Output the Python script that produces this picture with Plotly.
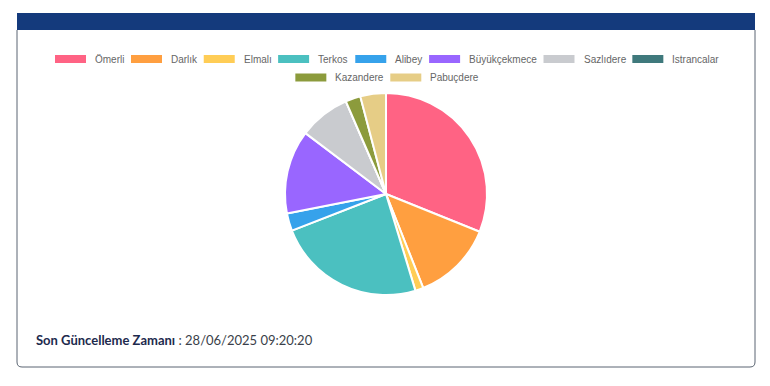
import plotly.graph_objects as go

# ---- data ----
dams = ["Ömerli", "Darlık", "Elmalı", "Terkos", "Alibey", "Büyükçekmece",
        "Sazlıdere", "Istrancalar", "Kazandere", "Pabuçdere"]
shares = [31.1, 12.9, 1.3, 23.8, 2.8, 13.4, 8.2, 0.0, 2.4, 4.1]
colors = ["#ff6384", "#ff9f40", "#ffcd56", "#4bc0c0", "#36a2eb", "#9966ff",
          "#c9cbcf", "#3f797c", "#8c9b3c", "#e6cd86"]
footer_label = "Son Güncelleme Zamanı"
footer_value = "28/06/2025 09:20:20"

W, H = 770, 386

# ---- pie geometry (pixels) ----
cx, cy, r = 386, 194, 101

fig = go.Figure()
fig.add_trace(go.Pie(
    labels=dams, values=shares, sort=False, direction="clockwise", rotation=0,
    marker=dict(colors=colors, line=dict(color="#ffffff", width=2)),
    textinfo="none", showlegend=False, hoverinfo="label+value",
    domain=dict(x=[(cx - r) / W, (cx + r) / W], y=[1 - (cy + r) / H, 1 - (cy - r) / H]),
))

shapes = []
annotations = []

# card frame
shapes.append(dict(type="path", xref="x", yref="y",
                   path="M 17,30 L 17,362 Q 17,367 22,367 L 750,367 Q 755,367 755,362 L 755,30",
                   line=dict(color="#5b6572", width=1), fillcolor="rgba(0,0,0,0)", layer="below"))
shapes.append(dict(type="rect", xref="x", yref="y", x0=17, x1=755, y0=13, y1=30,
                   fillcolor="#143a7c", line=dict(width=0)))

# ---- custom chart.js-like legend ----
cw = {'a': 556, 'b': 556, 'c': 500, 'd': 556, 'e': 556, 'f': 278, 'g': 556, 'h': 556,
      'i': 222, 'j': 222, 'k': 500, 'l': 222, 'm': 833, 'n': 556, 'o': 556, 'p': 556,
      'q': 556, 'r': 333, 's': 500, 't': 278, 'u': 556, 'v': 500, 'w': 722, 'x': 500,
      'y': 500, 'z': 500, 'ç': 500, 'ı': 278, 'ü': 556,
      'A': 667, 'B': 667, 'C': 722, 'D': 722, 'E': 667, 'I': 278, 'K': 667,
      'O': 778, 'Ö': 778, 'P': 667, 'S': 667, 'T': 611}
fs = 10
def tw(s):
    return sum(cw.get(ch, 556) for ch in s) * fs / 1000.0

box_w, box_h, gap_t, gap_i = 31, 8, 7, 8.6
maxw = 700
items = [(d, c, box_w + gap_t + tw(d)) for d, c in zip(dams, colors)]
rows, cur, curw = [], [], 0
for it in items:
    add = it[2] + (gap_i if cur else 0)
    if cur and curw + add > maxw:
        rows.append(cur)
        cur, curw = [], 0
        add = it[2]
    cur.append(it)
    curw += add
rows.append(cur)

row_y = [59, 77.5]
for ri, row in enumerate(rows):
    total = sum(it[2] for it in row) + gap_i * (len(row) - 1)
    x = W / 2 - total / 2 + 1
    yc = row_y[ri] if ri < len(row_y) else row_y[-1] + 18.5 * (ri - 1)
    for name, col, w in row:
        shapes.append(dict(type="rect", xref="x", yref="y", x0=x, x1=x + box_w,
                           y0=yc - box_h / 2, y1=yc + box_h / 2,
                           fillcolor=col, line=dict(width=0)))
        annotations.append(dict(xref="x", yref="y", x=x + box_w + gap_t, y=yc,
                                text=name, showarrow=False, xanchor="left", yanchor="middle",
                                font=dict(family="Arial, Liberation Sans", size=fs, color="#666666")))
        x += w + gap_i

# footer
annotations.append(dict(xref="x", yref="y", x=34, y=340, xanchor="left", yanchor="middle",
                        showarrow=False,
                        text=f"<b><span style='color:#1d2a4d'>{footer_label}</span></b>"
                             f"<span style='color:#3a3f4a'> : {footer_value}</span>",
                        font=dict(family="Lato, Inter, sans-serif", size=13)))

fig.update_layout(
    width=W, height=H, margin=dict(l=0, r=0, t=0, b=0),
    paper_bgcolor="#ffffff", plot_bgcolor="rgba(0,0,0,0)",
    xaxis=dict(range=[0, W], visible=False, fixedrange=True),
    yaxis=dict(range=[H, 0], visible=False, fixedrange=True),
    shapes=shapes, annotations=annotations, showlegend=False,
)

fig.write_html("out.html")
